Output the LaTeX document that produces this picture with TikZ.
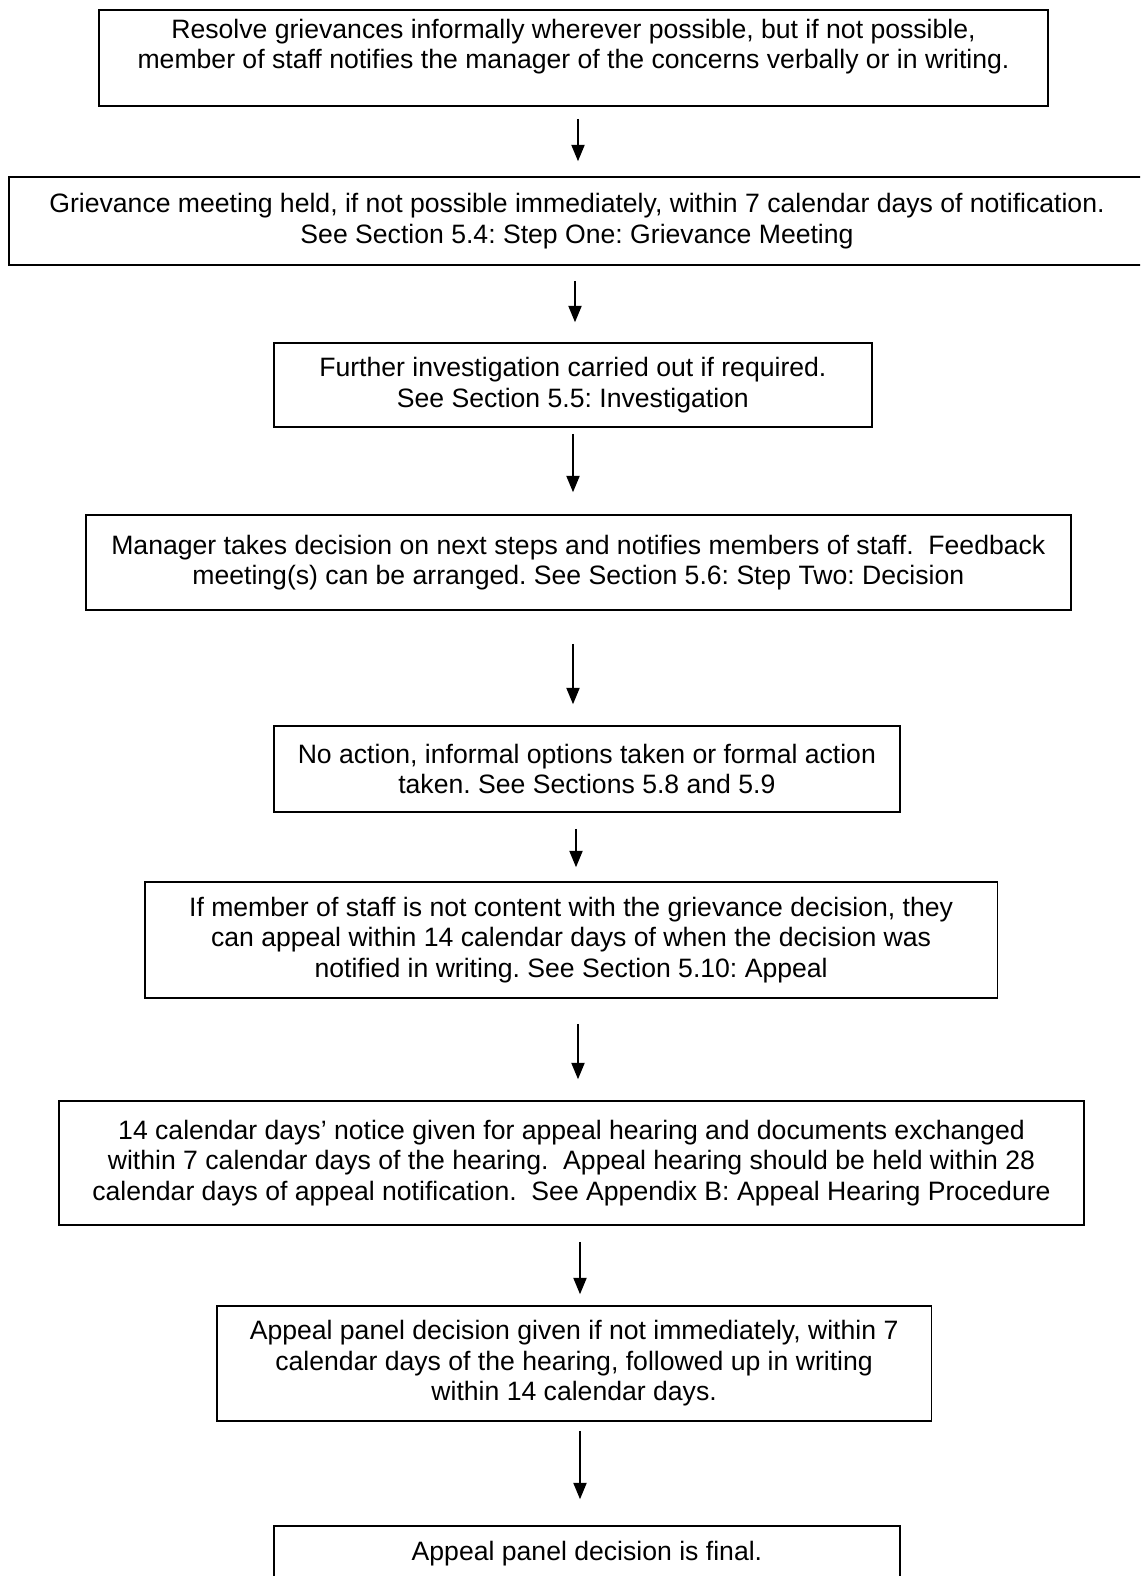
\documentclass[tikz,border=0pt]{standalone}
\usepackage{fontspec}
\setmainfont{Liberation Sans}
\usetikzlibrary{arrows.meta}
% one drawing unit = 0.4511pt
\newcommand{\pxu}{0.4511pt}
\begin{document}
\begin{tikzpicture}[x=0.4511pt, y=-0.4511pt,
  stepbox/.style={draw, line width=0.75pt, rectangle, align=center, inner sep=0pt,
    font=\fontsize{12pt}{13.8pt}\selectfont\frenchspacing},
  flowarrow/.style={line width=0.6pt, -{Triangle[width=6pt,length=7.4pt]}}]
\useasboundingbox (0,0) rectangle (1140,1576);
\clip (0,0) rectangle (1140,1576);

% process steps
\node[stepbox, minimum width=949.6*\pxu, minimum height=96*\pxu] (b1) at (573.5,58)
  {Resolve grievances informally wherever possible, but if not possible,\\member of staff notifies the manager of the concerns verbally or in writing.\\[-1pt]\mbox{}};
\node[stepbox, minimum width=1136*\pxu, minimum height=88*\pxu] (b2) at (577,221)
  {Grievance meeting held, if not possible immediately, within 7 calendar days of notification.\\See Section 5.4: Step One: Grievance Meeting};
\node[stepbox, minimum width=598.3*\pxu, minimum height=84*\pxu] (b3) at (572.85,385)
  {Further investigation carried out if required.\\See Section 5.5: Investigation};
\node[stepbox, minimum width=984.7*\pxu, minimum height=95*\pxu] (b4) at (578.35,562.5)
  {Manager takes decision on next steps and notifies members of staff.\ \ Feedback\\meeting(s) can be arranged. See Section 5.6: Step Two: Decision};
\node[stepbox, minimum width=626.3*\pxu, minimum height=86*\pxu] (b5) at (586.85,769)
  {No action, informal options taken or formal action\\taken. See Sections 5.8 and 5.9};
\node[stepbox, minimum width=852.8*\pxu, minimum height=116*\pxu] (b6) at (571.1,940)
  {If member of staff is not content with the grievance decision, they\\can appeal within 14 calendar days of when the decision was\\notified in writing. See Section 5.10: Appeal};
\node[stepbox, minimum width=1025*\pxu, minimum height=124*\pxu] (b7) at (571.5,1163)
  {14 calendar days’ notice given for appeal hearing and documents exchanged\\within 7 calendar days of the hearing.\ \ Appeal hearing should be held within 28\\calendar days of appeal notification.\ \ See Appendix B: Appeal Hearing Procedure};
\node[stepbox, minimum width=714.8*\pxu, minimum height=115*\pxu] (b8) at (574.1,1363.5)
  {Appeal panel decision given if not immediately, within 7\\calendar days of the hearing, followed up in writing\\within 14 calendar days.};
\node[stepbox, minimum width=626.5*\pxu, minimum height=56*\pxu] (b9) at (586.95,1554)
  {Appeal panel decision is final.};

% vertical lines carrying the arrows
\coordinate (a1) at (578,0);
\coordinate (a2) at (575,0);
\coordinate (a3) at (573,0);
\coordinate (a4) at (573,0);
\coordinate (a5) at (576,0);
\coordinate (a6) at (578,0);
\coordinate (a7) at (580,0);
\coordinate (a8) at (580,0);

\draw[flowarrow, shorten <=12*\pxu, shorten >=15*\pxu] (b1.south -| a1) -- (b2.north -| a1);
\draw[flowarrow, shorten <=15*\pxu, shorten >=20*\pxu] (b2.south -| a2) -- (b3.north -| a2);
\draw[flowarrow, shorten <=6*\pxu,  shorten >=22*\pxu] (b3.south -| a3) -- (b4.north -| a3);
\draw[flowarrow, shorten <=33*\pxu, shorten >=21*\pxu] (b4.south -| a4) -- (b5.north -| a4);
\draw[flowarrow, shorten <=16*\pxu, shorten >=14*\pxu] (b5.south -| a5) -- (b6.north -| a5);
\draw[flowarrow, shorten <=25*\pxu, shorten >=21*\pxu] (b6.south -| a6) -- (b7.north -| a6);
\draw[flowarrow, shorten <=16*\pxu, shorten >=11*\pxu] (b7.south -| a7) -- (b8.north -| a7);
\draw[flowarrow, shorten <=9*\pxu,  shorten >=26*\pxu] (b8.south -| a8) -- (b9.north -| a8);
\end{tikzpicture}
\end{document}
